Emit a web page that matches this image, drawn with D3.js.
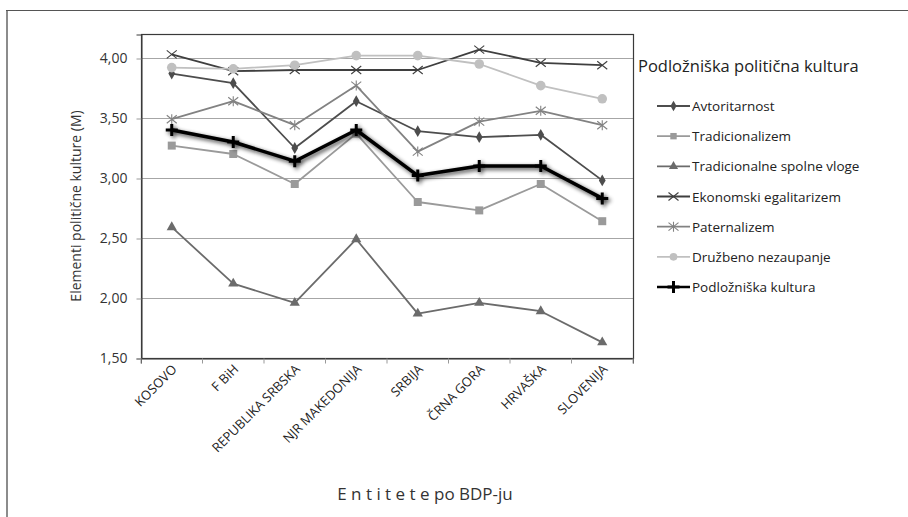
<!DOCTYPE html>
<html>
<head>
<meta charset="utf-8">
<script src="https://cdn.jsdelivr.net/npm/d3@7"></script>
<style>
  body { margin: 0; background: #fff; }
  svg text { font-family: "Open Sans", Lato, sans-serif; }
</style>
</head>
<body>
<div id="chart"></div>
<script>
// Categories (entities sorted by GDP) and series values
var categories = ["KOSOVO", "F BiH", "REPUBLIKA SRBSKA", "NJR MAKEDONIJA", "SRBIJA", "ČRNA GORA", "HRVAŠKA", "SLOVENIJA"];
var seriesNames = ["Avtoritarnost", "Tradicionalizem", "Tradicionalne spolne vloge", "Ekonomski egalitarizem", "Paternalizem", "Družbeno nezaupanje", "Podložniška kultura"];
var avtoritarnost = [3.87, 3.79, 3.25, 3.64, 3.39, 3.34, 3.36, 2.98];
var tradicionalizem = [3.27, 3.20, 2.95, 3.37, 2.80, 2.73, 2.95, 2.64];
var spolneVloge = [2.59, 2.12, 1.96, 2.49, 1.87, 1.96, 1.89, 1.63];
var egalitarizem = [4.03, 3.89, 3.90, 3.90, 3.90, 4.07, 3.96, 3.94];
var paternalizem = [3.49, 3.64, 3.44, 3.77, 3.22, 3.47, 3.56, 3.44];
var nezaupanje = [3.92, 3.91, 3.94, 4.02, 4.02, 3.95, 3.77, 3.66];
var podloznisko = [3.40, 3.30, 3.14, 3.40, 3.02, 3.10, 3.10, 2.83];
var yTicks = [1.5, 2.0, 2.5, 3.0, 3.5, 4.0];

var seriesValues = [avtoritarnost, tradicionalizem, spolneVloge, egalitarizem, paternalizem, nezaupanje, podloznisko];
var styles = [
  {color: "#4d4d4d", marker: "diamond", width: 1.8},
  {color: "#9a9a9a", marker: "square", width: 1.8},
  {color: "#6b6b6b", marker: "triangle", width: 1.8},
  {color: "#3f3f3f", marker: "cross", width: 1.8},
  {color: "#828282", marker: "star", width: 1.8},
  {color: "#c0c0c0", marker: "circle", width: 1.8},
  {color: "#000000", marker: "plus", width: 3.5}
];
var series = seriesNames.map((name, i) => ({name: name, values: seriesValues[i], style: styles[i]}));

var W = 908, H = 517;
var margin = {top: 34, left: 141, right: 633, bottom: 358};

var svg = d3.select("#chart").append("svg")
    .attr("width", W)
    .attr("height", H);

var defs = svg.append("defs");
var shadow = defs.append("filter").attr("id", "shadow")
    .attr("x", "-10%").attr("y", "-10%").attr("width", "120%").attr("height", "130%");
shadow.append("feGaussianBlur").attr("in", "SourceAlpha").attr("stdDeviation", 2).attr("result", "blur");
shadow.append("feOffset").attr("in", "blur").attr("dx", 1.5).attr("dy", 2).attr("result", "off");
shadow.append("feComponentTransfer").attr("in", "off").attr("result", "sh")
    .append("feFuncA").attr("type", "linear").attr("slope", 0.75);
var merge = shadow.append("feMerge");
merge.append("feMergeNode").attr("in", "sh");
merge.append("feMergeNode").attr("in", "SourceGraphic");

// Outer frame (left and top only)
svg.append("line").attr("x1", 7).attr("x2", 7).attr("y1", 10).attr("y2", H)
    .attr("stroke", "#8c8c8c").attr("stroke-width", 2);
svg.append("line").attr("x1", 6).attr("x2", W).attr("y1", 10.5).attr("y2", 10.5)
    .attr("stroke", "#555").attr("stroke-width", 1);

// Scales
var x = d3.scaleBand().domain(categories).range([margin.left, margin.right]);
var y = d3.scaleLinear().domain([1.5, 4.2]).range([margin.bottom, margin.top]);
var cx = d => x(d) + x.bandwidth() / 2;

// Gridlines
svg.append("g").selectAll("line")
    .data(yTicks.filter(t => t > 1.5))
    .enter().append("line")
    .attr("x1", margin.left).attr("x2", margin.right)
    .attr("y1", d => Math.round(y(d)) + 0.5).attr("y2", d => Math.round(y(d)) + 0.5)
    .attr("stroke", "#a6a6a6").attr("stroke-width", 1);

// Plot border
svg.append("rect")
    .attr("x", margin.left + 0.5).attr("y", margin.top + 0.5)
    .attr("width", margin.right - margin.left).attr("height", margin.bottom - margin.top)
    .attr("fill", "none").attr("stroke", "#3a3a3a").attr("stroke-width", 1.2);

// Y axis
var yAxis = svg.append("g")
    .attr("transform", "translate(" + (margin.left + 0.5) + ",0.5)")
    .call(d3.axisLeft(y).tickValues(yTicks).tickSize(5).tickFormat(d => d3.format(".2f")(d).replace(".", ",")));
yAxis.select(".domain").attr("stroke", "#3a3a3a");
yAxis.selectAll(".tick line").attr("stroke", "#999");
yAxis.selectAll("text").attr("font-size", 14).attr("fill", "#333").attr("x", -14)
    .style("font-family", "'Open Sans', sans-serif");

// X axis
var xAxis = svg.append("g")
    .attr("transform", "translate(0," + (margin.bottom + 0.5) + ")")
    .call(d3.axisBottom(x).tickSize(5).tickFormat(""));
xAxis.select(".domain").attr("stroke", "#3a3a3a");
xAxis.selectAll(".tick line").attr("stroke", "#999")
    .attr("transform", "translate(" + (-x.bandwidth() / 2) + ",0)");
xAxis.append("line")
    .attr("x1", margin.right).attr("x2", margin.right).attr("y1", 0).attr("y2", 5)
    .attr("stroke", "#999");

// X category labels
svg.append("g").selectAll("text")
    .data(categories)
    .enter().append("text")
    .attr("transform", d => "translate(" + (cx(d) + 6) + "," + (margin.bottom + 12) + ") rotate(-45)")
    .attr("text-anchor", "end")
    .attr("font-size", 13)
    .attr("fill", "#222")
    .text(d => d);

// Axis titles
svg.append("text")
    .attr("transform", "translate(81,206) rotate(-90)")
    .attr("text-anchor", "middle")
    .attr("font-size", 14)
    .attr("fill", "#333")
    .text("Elementi politične kulture (M)");

svg.append("text")
    .attr("x", 425).attr("y", 500)
    .attr("text-anchor", "middle")
    .attr("font-size", 17)
    .attr("fill", "#333")
    .text("E n t i t e t e po BDP-ju");

// Marker drawing
function drawMarker(g, type, color, s) {
  s = s || 1;
  if (type === "diamond") {
    g.append("path").attr("d", d3.symbol().type(d3.symbolDiamond).size(40 * s)()).attr("fill", color);
  } else if (type === "square") {
    g.append("rect").attr("x", -4 * s).attr("y", -4 * s).attr("width", 8 * s).attr("height", 8 * s).attr("fill", color);
  } else if (type === "triangle") {
    g.append("path").attr("d", d3.symbol().type(d3.symbolTriangle).size(45 * s)()).attr("fill", color);
  } else if (type === "cross") {
    g.append("path").attr("d", "M-5,-4L5,4M-5,4L5,-4").attr("stroke", color).attr("stroke-width", 1.1).attr("fill", "none");
  } else if (type === "star") {
    g.append("path").attr("d", "M-5,-4L5,4M-5,4L5,-4M0,-5L0,5").attr("stroke", color).attr("stroke-width", 1.1).attr("fill", "none");
  } else if (type === "circle") {
    g.append("circle").attr("r", 4.8 * s).attr("fill", color);
  } else if (type === "plus") {
    g.append("path").attr("d", "M-6,0L6,0M0,-6L0,6").attr("stroke", color).attr("stroke-width", 3).attr("fill", "none");
  }
}

// Lines and markers
var line = d3.line().x((d, i) => cx(categories[i])).y(d => y(d));

series.forEach(function(s) {
  var g = svg.append("g");
  if (s.style.marker === "plus") g.attr("filter", "url(#shadow)");
  g.append("path")
    .datum(s.values)
    .attr("d", line)
    .attr("fill", "none")
    .attr("stroke", s.style.color)
    .attr("stroke-width", s.style.width)
    .attr("stroke-linejoin", "round");
  s.values.forEach(function(v, i) {
    var m = g.append("g").attr("transform", "translate(" + cx(categories[i]) + "," + y(v) + ")");
    drawMarker(m, s.style.marker, s.style.color);
  });
});

// Legend
var legend = svg.append("g");
legend.append("text")
  .attr("x", 638).attr("y", 72)
  .attr("font-size", 16.5)
  .attr("fill", "#222")
  .text("Podložniška politična kultura");

var legendY = d3.scalePoint().domain(seriesNames).range([106, 287]);
series.forEach(function(s) {
  var ly = legendY(s.name);
  var lg = legend.append("g");
  lg.append("line")
    .attr("x1", 657).attr("x2", 690).attr("y1", ly).attr("y2", ly)
    .attr("stroke", s.style.color)
    .attr("stroke-width", s.style.width === 3.5 ? 2.5 : 1.8);
  var m = lg.append("g").attr("transform", "translate(673.5," + ly + ")");
  drawMarker(m, s.style.marker, s.style.color, 0.8);
  lg.append("text")
    .attr("x", 692).attr("y", ly + 5)
    .attr("font-size", 13.5)
    .attr("fill", "#222")
    .text(s.name);
});
</script>
</body>
</html>
